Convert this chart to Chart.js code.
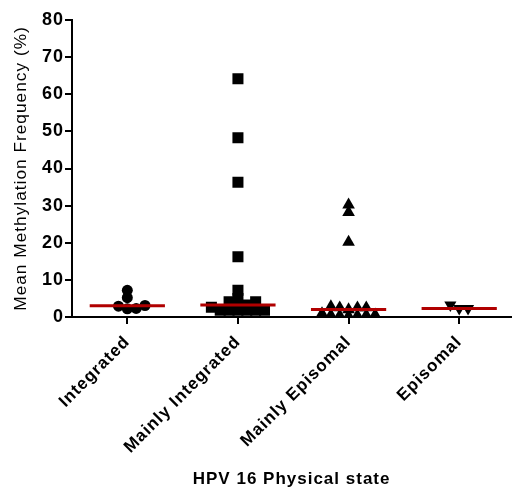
<!DOCTYPE html>
<html>
<head>
<meta charset="utf-8">
<script src="https://cdn.jsdelivr.net/npm/chart.js@4.4.0/dist/chart.umd.min.js"></script>
<style>
  html, body { margin: 0; padding: 0; background: #fff; }
  #wrap { width: 519px; height: 488px; position: relative; }
</style>
</head>
<body>
<div id="wrap"><canvas id="dotPlot"></canvas></div>
<script>
const categories = ['Integrated', 'Mainly Integrated', 'Mainly Episomal', 'Episomal'];
const integrated = [2.9, 5.2, 7.2, 2.3, 3.1, 2.2];
const mainlyIntegrated = [64.2, 48.3, 36.3, 16.2, 7.2, 5.0, 4.1, 4.1, 3.2, 3.1, 2.6, 1.8, 1.8, 1.8, 1.8, 1.8, 1.8];
const mainlyEpisomal = [28.2, 30.2, 20.2, 2.8, 2.5, 2.5, 2.5, 2.0, 0.9, 0.6, 0.5, 0.5, 0.4, 0.4, 0.3];
const episomal = [3.2, 2.3, 2.3];
const yTicks = [0, 10, 20, 30, 40, 50, 60, 70, 80];

const groups = [integrated, mainlyIntegrated, mainlyEpisomal, episomal];
const fontFamily = '"Liberation Sans", Arial, sans-serif';

// one marker style per group: circle, square, triangle, upside-down triangle
const markers = [
    { pointStyle: 'circle', pointRadius: 5.5, pointRotation: 0 },
    { pointStyle: 'rect', pointRadius: 7.8, pointRotation: 0 },
    { pointStyle: 'triangle', pointRadius: 7.3, pointRotation: 0 },
    { pointStyle: 'triangle', pointRadius: 7, pointRotation: 180 }
];

function median(values) {
    const s = values.slice().sort((a, b) => a - b);
    const mid = Math.floor(s.length / 2);
    return s.length % 2 ? s[mid] : (s[mid - 1] + s[mid]) / 2;
}

// simple column swarm: points that sit too close in value are pushed
// sideways, alternating right/left of the category centre
function swarm(values, centre) {
    const step = 0.08;
    const gap = 1.25;
    const placed = [];
    values.slice().sort((a, b) => a - b).forEach(v => {
        for (let k = 0; ; k++) {
            const col = k === 0 ? 0 : (k % 2 ? (k + 1) / 2 : -k / 2);
            const clash = placed.some(p => p.col === col && Math.abs(p.y - v) < gap);
            if (!clash) {
                placed.push({ col: col, y: v });
                break;
            }
        }
    });
    return placed.map(p => ({ x: centre + p.col * step, y: p.y }));
}

const medianSets = groups.map((vals, i) => {
    const m = median(vals);
    return {
        data: [{ x: i + 1 - 0.34, y: m }, { x: i + 1 + 0.34, y: m }],
        showLine: true,
        borderColor: '#b00000',
        borderWidth: 3,
        pointRadius: 0
    };
});

const dotSets = groups.map((vals, i) => Object.assign({
    data: swarm(vals, i + 1),
    backgroundColor: '#000',
    borderWidth: 0
}, markers[i]));

// letter spacing for all canvas text
const spacedText = {
    id: 'spacedText',
    beforeUpdate(chart) { chart.ctx.letterSpacing = '1px'; },
    beforeDraw(chart) { chart.ctx.letterSpacing = '1px'; }
};

const axisLine = { color: '#000', width: 2 };
const tickMarks = { drawOnChartArea: false, drawTicks: true, tickLength: 7, color: '#000', lineWidth: 2 };

new Chart(document.getElementById('dotPlot').getContext('2d'), {
    type: 'scatter',
    data: { datasets: medianSets.concat(dotSets) },
    plugins: [spacedText],
    options: {
        responsive: true,
        maintainAspectRatio: false,
        animation: false,
        events: [],
        layout: { padding: { top: 20, right: 0, bottom: 0, left: 0 } },
        plugins: {
            legend: { display: false },
            tooltip: { enabled: false }
        },
        scales: {
            x: {
                type: 'linear',
                min: 0.5,
                max: 4.47,
                afterBuildTicks: axis => { axis.ticks = categories.map((c, i) => ({ value: i + 1 })); },
                afterFit: axis => { axis.height = 171; },
                grid: tickMarks,
                border: axisLine,
                ticks: {
                    autoSkip: false,
                    minRotation: 45,
                    maxRotation: 45,
                    padding: 8,
                    color: '#000',
                    font: { family: fontFamily, size: 17, weight: 'bold' },
                    callback: v => categories[v - 1]
                },
                title: {
                    display: true,
                    text: 'HPV 16 Physical state',
                    color: '#000',
                    font: { family: fontFamily, size: 17, weight: 'bold', lineHeight: 1 },
                    padding: { top: 0, bottom: 0 }
                }
            },
            y: {
                min: 0,
                max: 80,
                afterBuildTicks: axis => { axis.ticks = yTicks.map(v => ({ value: v })); },
                afterFit: axis => { axis.width = 72; },
                grid: tickMarks,
                border: axisLine,
                ticks: {
                    padding: 1,
                    color: '#000',
                    font: { family: fontFamily, size: 18, weight: 'bold' }
                },
                title: {
                    display: true,
                    text: 'Mean Methylation Frequency (%)',
                    color: '#000',
                    font: { family: fontFamily, size: 17.3 },
                    padding: { top: 11, bottom: 0 }
                }
            }
        }
    }
});
</script>
</body>
</html>
